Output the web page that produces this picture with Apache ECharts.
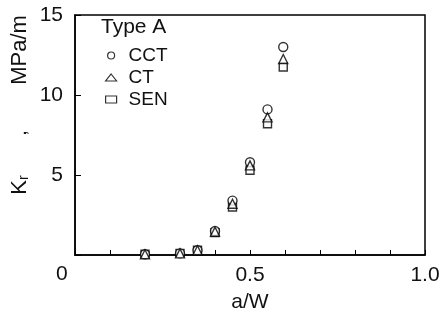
<!DOCTYPE html>
<html>
<head>
<meta charset="utf-8">
<script src="https://cdn.jsdelivr.net/npm/echarts@6/dist/echarts.min.js"></script>
<style>html,body{margin:0;padding:0;background:#fff}#c{width:447px;height:322px}</style>
</head>
<body>
<div id="c"></div>
<script>
var aW = [0.2, 0.3, 0.35, 0.4, 0.45, 0.5, 0.55, 0.595];
var cct = [0.05, 0.1, 0.3, 1.5, 3.4, 5.8, 9.1, 13.0];
var ct  = [0.05, 0.1, 0.3, 1.45, 3.2, 5.6, 8.6, 12.25];
var sen = [0.05, 0.1, 0.3, 1.4, 3.0, 5.3, 8.2, 11.75];
var xTickLabels = {'0.5': '0.5', '1': '1.0'};
var yTickLabels = {'5': '5', '10': '10', '15': '15'};
var seriesNames = ['CCT', 'CT', 'SEN'];
var legendTitle = 'Type A';
var xName = 'a/W';
var originLabel = '0';
var yNameParts = ['K', 'r', ',', 'MPa/m'];

function pairs(ys){ return aW.map(function(x,i){ return [x, ys[i]]; }); }
var FONT = '"Liberation Sans", sans-serif';
var chart = echarts.init(document.getElementById('c'));
var mk = {color:'#fff', borderColor:'#000', borderWidth:1.4};
chart.setOption({
  animation:false,
  grid:{left:75, right:22, top:15, bottom:67, show:true, borderColor:'#000', borderWidth:1.5, backgroundColor:'transparent'},
  xAxis:{type:'value', min:0, max:1, interval:0.1,
    axisLine:{lineStyle:{color:'#000', width:1.5}},
    axisTick:{inside:true, length:5, lineStyle:{color:'#000'}},
    splitLine:{show:false},
    axisLabel:{margin:10, color:'#111', fontFamily:FONT, fontSize:21,
      formatter:function(v){ var k=String(+v.toFixed(1)); return xTickLabels[k]||''; }},
    name:xName, nameLocation:'middle', nameGap:37,
    nameTextStyle:{color:'#111', fontFamily:FONT, fontSize:21}
  },
  yAxis:{type:'value', min:0, max:15, interval:5,
    axisLine:{lineStyle:{color:'#000', width:1.5}},
    axisTick:{inside:true, length:6, lineStyle:{color:'#000'}},
    splitLine:{show:false},
    axisLabel:{margin:12, color:'#111', fontFamily:FONT, fontSize:21,
      formatter:function(v){ return yTickLabels[String(v)]||''; }}
  },
  legend:{orient:'vertical', left:100, top:41, itemGap:3, itemWidth:11, itemHeight:7,
    data:seriesNames.map(function(n,i){ return {name:n, icon:['circle','triangle','rect'][i]}; }),
    textStyle:{color:'#111', fontFamily:FONT, fontSize:19, padding:[0,0,0,7]},
    itemStyle:{color:'#fff', borderColor:'#000', borderWidth:1.2}
  },
  graphic:[
    {type:'text', left:101, top:17, style:{text:legendTitle, fill:'#111', font:'21px ' + FONT}},
    {type:'text', x:56, y:264, style:{text:originLabel, fill:'#111', font:'21px ' + FONT}},
    {type:'text', x:20, y:185, rotation:Math.PI/2,
      style:{text:'{k|' + yNameParts[0] + '}{s|' + yNameParts[1] + '}', align:'center', verticalAlign:'middle',
        rich:{k:{fontFamily:FONT, fontSize:22, fill:'#111'}, s:{fontFamily:FONT, fontSize:14, fill:'#111', padding:[8,0,0,0]}}}},
    {type:'text', x:20, y:133, rotation:Math.PI/2,
      style:{text:yNameParts[2], align:'center', verticalAlign:'middle', font:'20px ' + FONT, fill:'#111'}},
    {type:'text', x:20, y:50, rotation:Math.PI/2,
      style:{text:yNameParts[3], align:'center', verticalAlign:'middle', font:'22px ' + FONT, fill:'#111'}}
  ],
  series:[
    {name:seriesNames[0], type:'scatter', symbol:'circle', symbolSize:9, data:pairs(cct), itemStyle:mk, z:3},
    {name:seriesNames[1], type:'scatter', symbol:'triangle', symbolSize:9, data:pairs(ct), itemStyle:mk, z:4},
    {name:seriesNames[2], type:'scatter', symbol:'rect', symbolSize:8, data:pairs(sen), itemStyle:mk, z:2}
  ]
});
</script>
</body>
</html>
